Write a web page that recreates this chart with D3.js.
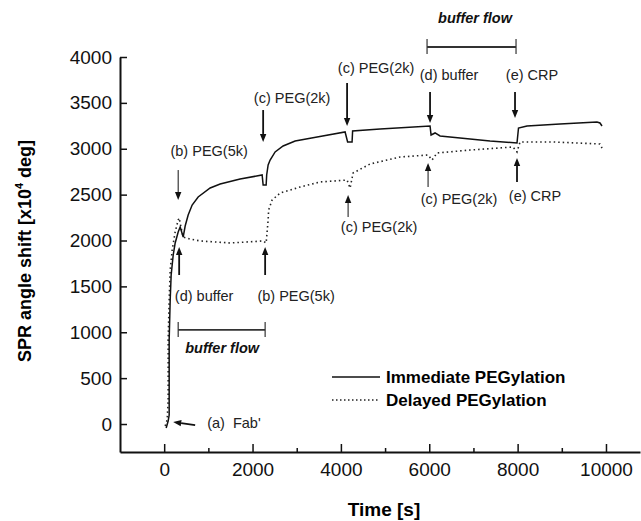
<!DOCTYPE html>
<html>
<head>
<meta charset="utf-8">
<script src="https://cdn.jsdelivr.net/npm/d3@7"></script>
<style>
  body { margin: 0; background: #fff; }
  svg { display: block; font-family: Arial, "Liberation Sans", sans-serif; }
</style>
</head>
<body>
<div id="chart"></div>
<script>
// immediate PEGylation (solid) - time [s], SPR shift
const immT = [45, 90, 113, 113, 136, 158, 204, 249, 317, 362, 430, 475, 543, 633, 769, 1041, 1267, 1719, 2217,
  2240, 2308, 2320, 2353, 2398, 2511, 2692, 2964, 3462, 4095, 4152, 4253, 4265, 4887, 6018, 6041, 6131, 6244,
  6697, 7376, 7986, 8020, 8213, 8959, 9796, 9864, 9910];
const immV = [-44, 33, 98, 916, 1351, 1624, 1842, 1973, 2093, 2147, 2038, 2158, 2278, 2387, 2474, 2572, 2616, 2670, 2714,
  2605, 2605, 2714, 2823, 2877, 2965, 3030, 3085, 3128, 3183, 3074, 3074, 3193, 3215, 3248, 3150, 3172, 3139,
  3117, 3084, 3063, 3226, 3248, 3270, 3292, 3281, 3248];

// delayed PEGylation (dotted)
const delT = [23, 68, 90, 90, 113, 136, 181, 249, 317, 339, 385, 430, 588, 814, 1493, 2240, 2308, 2353, 2364, 2443,
  2624, 3077, 3529, 4140, 4208, 4276, 4661, 5339, 5973, 6063, 6176, 6923, 7896, 7986, 8054, 8801, 9864, 9910];
const delV = [-22, 44, 262, 916, 1351, 1678, 1896, 2093, 2223, 2245, 2136, 2038, 2016, 1995, 1973, 1995, 1973, 2223, 2332, 2441,
  2518, 2583, 2638, 2659, 2572, 2736, 2834, 2910, 2932, 2877, 2954, 2986, 3019, 2965, 3074, 3074, 3052, 3008];

const xMajor = [0, 2000, 4000, 6000, 8000, 10000];
const xMinor = [1000, 3000, 5000, 7000, 9000];
const yTicks = [0, 500, 1000, 1500, 2000, 2500, 3000, 3500, 4000];

// annotations: arrow at t from v0 (tail) to v1 (tip), label centred at lt, baseline lv
const notes = [
  { t: 317, v0: 2768, v1: 2441, lt: 1018, lv: 2921, label: '(b) PEG(5k)', thin: true },
  { t: 2240, v0: 3422, v1: 3074, lt: 2896, lv: 3499, label: '(c) PEG(2k)' },
  { t: 4140, v0: 3717, v1: 3248, lt: 4796, lv: 3826, label: '(c) PEG(2k)' },
  { t: 6018, v0: 3619, v1: 3281, lt: 6448, lv: 3749, label: '(d) buffer' },
  { t: 7941, v0: 3619, v1: 3335, lt: 8326, lv: 3749, label: '(e) CRP' },
  { t: 339, v0: 1624, v1: 1929, lt: 905, lv: 1341, label: '(d) buffer' },
  { t: 2285, v0: 1624, v1: 1929, lt: 2986, lv: 1341, label: '(b) PEG(5k)' },
  { t: 4163, v0: 2256, v1: 2496, lt: 4864, lv: 2093, label: '(c) PEG(2k)', thin: true },
  { t: 5973, v0: 2583, v1: 2845, lt: 6674, lv: 2398, label: '(c) PEG(2k)', thin: true },
  { t: 7986, v0: 2638, v1: 2899, lt: 8394, lv: 2430, label: '(e) CRP' }
];
const brackets = [
  { t0: 5950, t1: 7964, v: 4109, lt: 7036, lv: 4371 },
  { t0: 317, t1: 2285, v: 1025, lt: 1312, lv: 774 }
];

const width = 641, height = 521;
const svg = d3.select('#chart').append('svg')
  .attr('width', width)
  .attr('height', height);

const x = d3.scaleLinear().domain([-1000, 10770]).range([120, 640]);
const y = d3.scaleLinear().domain([-305, 4000]).range([452, 57]);

// axes
const xAxis = svg.append('g')
  .attr('transform', `translate(0,${y(-305)})`)
  .call(d3.axisBottom(x).tickValues(xMajor).tickSizeInner(-8).tickSizeOuter(0).tickPadding(11).tickFormat(d3.format('d')));
xAxis.selectAll('text').attr('font-size', 19).attr('fill', '#111');
svg.append('g')
  .attr('transform', `translate(0,${y(-305)})`)
  .call(d3.axisBottom(x).tickValues(xMinor).tickSizeInner(-4).tickSizeOuter(0).tickFormat(''))
  .select('.domain').remove();

const yAxis = svg.append('g')
  .attr('transform', `translate(${x(-1000)},0)`)
  .call(d3.axisLeft(y).tickValues(yTicks).tickSizeInner(-7).tickSizeOuter(0).tickPadding(8).tickFormat(d3.format('d')));
yAxis.selectAll('text').attr('font-size', 19).attr('fill', '#111');

svg.selectAll('.domain').attr('stroke', '#111').attr('stroke-width', 2);
svg.selectAll('.tick line').attr('stroke', '#111').attr('stroke-width', 1.5);

// axis titles
svg.append('text')
  .attr('x', 384).attr('y', 516)
  .attr('text-anchor', 'middle')
  .attr('font-size', 19).attr('font-weight', 'bold')
  .text('Time [s]');
const yTitle = svg.append('text')
  .attr('transform', 'translate(31,251) rotate(-90)')
  .attr('text-anchor', 'middle')
  .attr('font-size', 18).attr('font-weight', 'bold');
yTitle.append('tspan').text('SPR angle shift [x10');
yTitle.append('tspan').attr('font-size', 11).attr('dy', -8).text('4');
yTitle.append('tspan').attr('dy', 8).text(' deg]');

// curves
const line = d3.line().x(d => x(d[0])).y(d => y(d[1]));
svg.append('path')
  .datum(delT.map((t, i) => [t, delV[i]]))
  .attr('d', line)
  .attr('fill', 'none')
  .attr('stroke', '#222')
  .attr('stroke-width', 1.6)
  .attr('stroke-dasharray', '1.5,3');
svg.append('path')
  .datum(immT.map((t, i) => [t, immV[i]]))
  .attr('d', line)
  .attr('fill', 'none')
  .attr('stroke', '#111')
  .attr('stroke-width', 1.5);

// arrows + labels
const drawArrow = (x0, y0, x1, y1, w) => {
  const a = Math.atan2(y1 - y0, x1 - x0);
  const L = 8, H = 3.2;
  const bx = x1 - L * Math.cos(a), by = y1 - L * Math.sin(a);
  svg.append('line')
    .attr('x1', x0).attr('y1', y0).attr('x2', bx).attr('y2', by)
    .attr('stroke', '#111').attr('stroke-width', w);
  svg.append('path')
    .attr('d', `M${x1},${y1}L${bx + H * Math.sin(a)},${by - H * Math.cos(a)}L${bx - H * Math.sin(a)},${by + H * Math.cos(a)}Z`)
    .attr('fill', '#111');
};

notes.forEach(d => {
  drawArrow(x(d.t), y(d.v0), x(d.t), y(d.v1), d.thin ? 1 : 1.8);
  svg.append('text')
    .attr('x', x(d.lt)).attr('y', y(d.lv))
    .attr('text-anchor', 'middle')
    .attr('font-size', 14.5).attr('fill', '#222')
    .text(d.label);
});

// (a) Fab'
drawArrow(x(701), y(-11), x(204), y(22), 1.8);
svg.append('text')
  .attr('x', x(973)).attr('y', y(-44))
  .attr('font-size', 14.5).attr('fill', '#222')
  .attr('xml:space', 'preserve')
  .text("(a)  Fab'");

// buffer flow brackets
brackets.forEach(b => {
  const yy = y(b.v);
  svg.append('line').attr('x1', x(b.t0)).attr('x2', x(b.t1)).attr('y1', yy).attr('y2', yy)
    .attr('stroke', '#333').attr('stroke-width', 1.8);
  [b.t0, b.t1].forEach(t => {
    svg.append('line').attr('x1', x(t)).attr('x2', x(t)).attr('y1', yy - 8).attr('y2', yy + 7)
      .attr('stroke', '#333').attr('stroke-width', 1.2);
  });
  svg.append('text')
    .attr('x', x(b.lt)).attr('y', y(b.lv))
    .attr('text-anchor', 'middle')
    .attr('font-size', 14.5).attr('font-weight', 'bold').attr('font-style', 'italic')
    .attr('fill', '#111')
    .text('buffer flow');
});

// legend
const legend = svg.append('g').attr('transform', 'translate(332,377)');
legend.append('line').attr('x1', 0).attr('x2', 48).attr('y1', 0).attr('y2', 0)
  .attr('stroke', '#111').attr('stroke-width', 1.5);
legend.append('line').attr('x1', 0).attr('x2', 48).attr('y1', 23).attr('y2', 23)
  .attr('stroke', '#222').attr('stroke-width', 1.4).attr('stroke-dasharray', '1.5,2.5');
legend.append('text').attr('x', 54).attr('y', 6)
  .attr('font-size', 17).attr('font-weight', 'bold').text('Immediate PEGylation');
legend.append('text').attr('x', 54).attr('y', 29)
  .attr('font-size', 17).attr('font-weight', 'bold').text('Delayed PEGylation');
</script>
</body>
</html>
